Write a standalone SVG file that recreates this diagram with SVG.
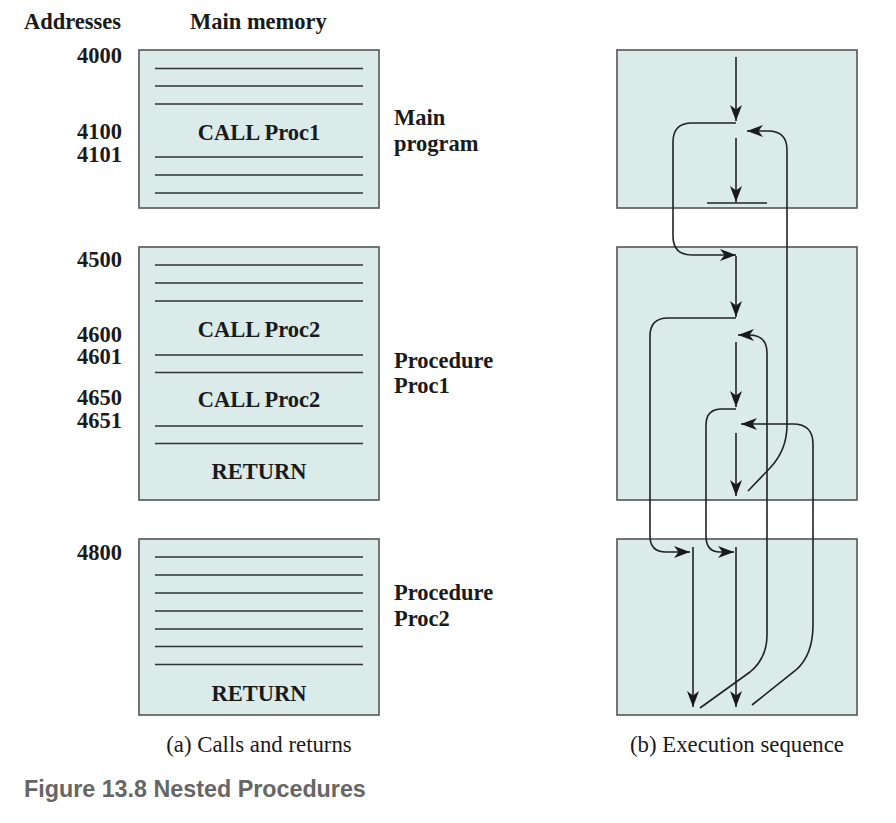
<svg xmlns="http://www.w3.org/2000/svg" width="896" height="823" viewBox="0 0 896 823">
<defs>
<marker id="ah" markerWidth="18" markerHeight="13" refX="16" refY="6" orient="auto" markerUnits="userSpaceOnUse">
<path d="M0,0 L16,6 L0,12 L4.5,6 Z" fill="#1a1a1a"/>
</marker>
<style>
.box{fill:#dbebea;stroke:#555;stroke-width:1.6}
.ln{stroke:#333;stroke-width:1.6;fill:none}
.b{font-family:"Liberation Serif",serif;font-weight:bold;font-size:22.5px;fill:#1a1a1a}
.r{font-family:"Liberation Serif",serif;font-size:22.8px;fill:#1a1a1a}
.c{stroke:#222;stroke-width:1.6;fill:none}
.ca{stroke:#222;stroke-width:1.6;fill:none;marker-end:url(#ah)}
</style>
</defs>
<rect width="896" height="823" fill="#fff"/>
<text class="b" x="24" y="29">Addresses</text>
<text class="b" x="190" y="29">Main memory</text>
<g id="addresses" class="b" text-anchor="end">
<text x="122" y="63">4000</text>
<text x="122" y="139">4100</text>
<text x="122" y="162">4101</text>
<text x="122" y="267">4500</text>
<text x="122" y="342">4600</text>
<text x="122" y="364">4601</text>
<text x="122" y="405">4650</text>
<text x="122" y="428">4651</text>
<text x="122" y="560">4800</text>
</g>
<g id="mem-main">
<rect class="box" x="139" y="50" width="240" height="158"/>
<path class="ln" d="M155,68.5H363M155,86H363M155,104H363M155,157H363M155,175H363M155,193H363"/>
<text class="b" x="259" y="140" text-anchor="middle">CALL Proc1</text>
<text class="b" x="394" y="125">Main</text>
<text class="b" x="394" y="151">program</text>
</g>
<g id="mem-proc1">
<rect class="box" x="139" y="247" width="240" height="253"/>
<path class="ln" d="M155,265H363M155,283H363M155,301H363M155,355H363M155,372.5H363M155,426H363M155,443.5H363"/>
<text class="b" x="259" y="337" text-anchor="middle">CALL Proc2</text>
<text class="b" x="259" y="407" text-anchor="middle">CALL Proc2</text>
<text class="b" x="259" y="479" text-anchor="middle">RETURN</text>
<text class="b" x="394" y="368">Procedure</text>
<text class="b" x="394" y="393">Proc1</text>
</g>
<g id="mem-proc2">
<rect class="box" x="139" y="539" width="240" height="176"/>
<path class="ln" d="M155,557H363M155,575H363M155,593H363M155,611H363M155,629H363M155,646.5H363M155,664.5H363"/>
<text class="b" x="259" y="701" text-anchor="middle">RETURN</text>
<text class="b" x="394" y="600">Procedure</text>
<text class="b" x="394" y="626">Proc2</text>
</g>
<text class="r" x="259" y="752" text-anchor="middle">(a) Calls and returns</text>
<text class="r" x="737" y="752" text-anchor="middle">(b) Execution sequence</text>
<text x="24" y="797" font-family="Liberation Sans,Arial,sans-serif" font-weight="bold" font-size="23.3" fill="#666">Figure 13.8 Nested Procedures</text>
<g id="exec-main"><rect class="box" x="617" y="50" width="240" height="158"/></g>
<g id="exec-proc1"><rect class="box" x="617" y="247" width="240" height="253"/></g>
<g id="exec-proc2"><rect class="box" x="617" y="539" width="240" height="176"/></g>
<g id="connectors">
<path class="ca" d="M736,57V121"/>
<path class="ca" d="M736,138V202"/>
<path class="c" d="M707,203H767"/>
<path class="ca" d="M736,123H692Q673,123 673,142V236Q673,255 692,255H736"/>
<path class="ca" d="M748,491L770,468Q787,450 787,425V150Q787,131 768,131H747"/>
<path class="ca" d="M736,256V317"/>
<path class="ca" d="M736,318H668Q650,318 650,336V536Q650,552 666,552H690"/>
<path class="ca" d="M693,547V707"/>
<path class="ca" d="M700,708L750,672Q767,658 767,635V353Q767,335 749,335H738"/>
<path class="ca" d="M736,342V407"/>
<path class="ca" d="M736,409H722Q706,409 706,425V536Q706,552 720,552H734"/>
<path class="ca" d="M736,547V707"/>
<path class="ca" d="M752,705L796,670Q813,655 813,625V444Q813,424 793,424H741"/>
<path class="ca" d="M736,433V496"/>
</g>
</svg>
